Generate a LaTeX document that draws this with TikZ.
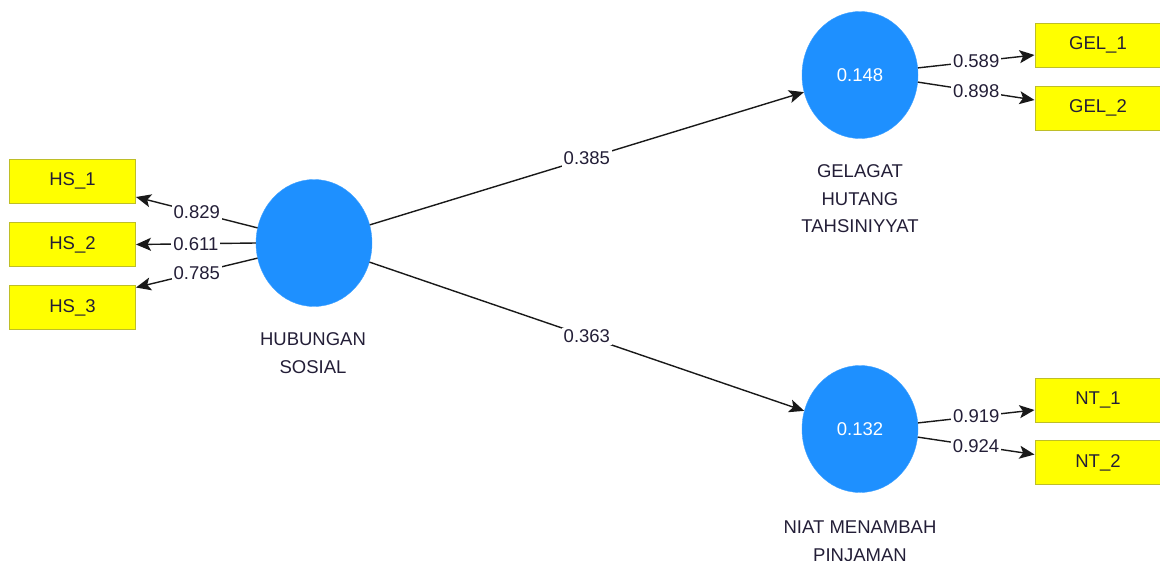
\documentclass[tikz,border=0pt]{standalone}
\usepackage{fontspec}
\setmainfont{Liberation Sans}
\usetikzlibrary{shapes.geometric,arrows.meta}
\definecolor{lvblue}{RGB}{30,144,255}
\definecolor{mvyellow}{RGB}{255,255,0}
\definecolor{mvedge}{RGB}{190,190,40}
\definecolor{txtdark}{RGB}{35,30,55}
\tikzset{
  latent/.style={ellipse, fill=lvblue, draw=lvblue!85!white, minimum width=116pt, minimum height=127pt, inner sep=0pt, text=white},
  indicator/.style={rectangle, fill=mvyellow, draw=mvedge, line width=1pt, minimum width=126pt, minimum height=44pt, inner sep=0pt, text=txtdark},
  lvname/.style={align=center, text=txtdark},
  link/.style={draw=black!90, line width=1.4pt, -{Stealth[length=15pt,width=13pt,inset=3.5pt]}},
  coef/.style={fill=white, inner sep=2pt, text=txtdark, pos=0.5}
}
\begin{document}
\begin{tikzpicture}[x=1pt,y=-1pt,font=\fontsize{18.5}{27.5}\selectfont]
\useasboundingbox (0,0) rectangle (1160,560);
% latent variables
\node[latent] (hub) at (314,243) {};
\node[latent] (gel) at (860,75) {0.148};
\node[latent] (nia) at (860,429) {0.132};
\node[lvname] (hubn) at (313,353) {HUBUNGAN\\SOSIAL};
\node[lvname] (geln) at (860,199) {GELAGAT\\HUTANG\\TAHSINIYYAT};
\node[lvname] (nian) at (860,541) {NIAT MENAMBAH\\PINJAMAN};
% indicators
\node[indicator] (hs1) at (72.5,181) {HS\_1};
\node[indicator] (hs2) at (72.5,244.5) {HS\_2};
\node[indicator] (hs3) at (72.5,307.5) {HS\_3};
\node[indicator] (gel1) at (1098,45) {GEL\_1};
\node[indicator] (gel2) at (1098,108) {GEL\_2};
\node[indicator] (nt1) at (1098,400) {NT\_1};
\node[indicator] (nt2) at (1098,462.5) {NT\_2};
% structural paths
\draw[link] (hub.18) -- node[coef] (p1) {0.385} (gel.197);
\draw[link] (hub.341) -- node[coef] (p2) {0.363} (nia.162);
% outer loadings
\draw[link] (hub.165) -- node[coef] (l1) {0.829} ([yshift=-16pt]hs1.east);
\draw[link] (hub.180) -- node[coef] (l2) {0.611} (hs2.east);
\draw[link] (hub.195) -- node[coef] (l3) {0.785} ([yshift=20pt]hs3.east);
\draw[link] (gel.7) -- node[coef] (l4) {0.589} ([yshift=-10pt]gel1.west);
\draw[link] (gel.353) -- node[coef] (l5) {0.898} ([yshift=8pt]gel2.west);
\draw[link] (nia.6) -- node[coef] (l6) {0.919} ([yshift=-10pt]nt1.west);
\draw[link] (nia.352) -- node[coef] (l7) {0.924} ([yshift=8pt]nt2.west);
\end{tikzpicture}
\end{document}
